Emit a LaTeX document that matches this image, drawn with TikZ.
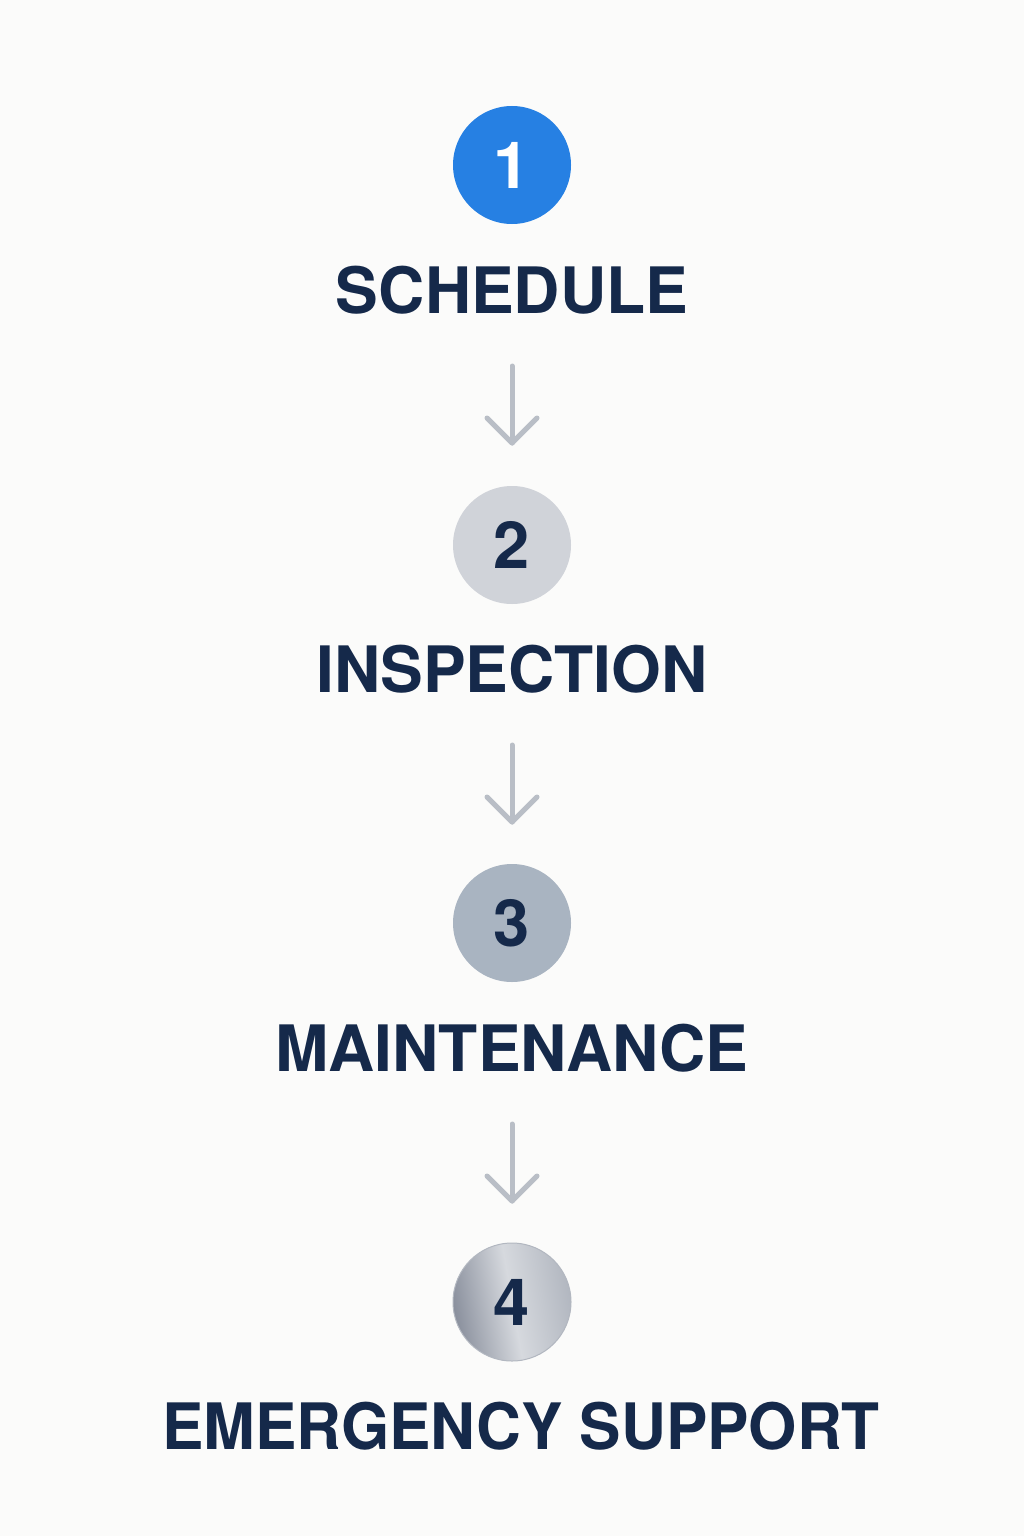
\documentclass[tikz,border=0pt]{standalone}
\usepackage{fontspec}
\setmainfont{TeX Gyre Heros}
\usetikzlibrary{calc}
\definecolor{bg}{HTML}{FBFBFA}
\definecolor{navy}{HTML}{15294A}
\definecolor{blue1}{HTML}{2680E3}
\definecolor{grey2}{HTML}{D0D3D9}
\definecolor{grey3}{HTML}{A9B4C1}
\definecolor{arrowc}{HTML}{B9BEC6}
\definecolor{g4a}{HTML}{8A909D}
\definecolor{g4b}{HTML}{D6D9DE}
\definecolor{g4c}{HTML}{B2B7C0}
\tikzset{
  stepcircle/.style={circle, minimum size=118pt, inner sep=0pt, font=\fontsize{65}{65}\selectfont\bfseries, text=navy},
  steplabel/.style={font=\fontsize{64}{64}\selectfont\bfseries, text=navy, inner sep=0pt, anchor=base},
  flowarrow/.style={draw=arrowc, line width=5pt, line cap=round, line join=round},
}
\begin{document}
\begin{tikzpicture}[x=1pt,y=-1pt]
\fill[bg] (0,0) rectangle (1024,1536);
\useasboundingbox (0,0) rectangle (1024,1536);
% circles
\node[stepcircle, fill=blue1, text=white] (c1) at (512,165) {1};
\node[stepcircle, fill=grey2] (c2) at (512,545) {2};
\node[stepcircle, fill=grey3] (c3) at (512,923) {3};
\node[stepcircle, left color=g4a, right color=g4c, middle color=g4b, shading angle=100, draw=g4c, line width=1pt] (c4) at (512,1302) {4};
% labels
\node[steplabel] (l1) at (512,313) {SCHEDULE};
\node[steplabel] (l2) at (512,692) {INSPECTION};
\node[steplabel] (l3) at (512,1071) {MAINTENANCE};
\node[steplabel, xscale=0.97] (l4) at (521,1449) {EMERGENCY SUPPORT};
% arrows
\coordinate (a1s) at (512,366); \coordinate (a1e) at (512,443);
\coordinate (a2s) at (512,745); \coordinate (a2e) at (512,822);
\coordinate (a3s) at (512,1124); \coordinate (a3e) at (512,1201);
\foreach \s/\e in {a1s/a1e,a2s/a2e,a3s/a3e}{
  \draw[flowarrow] (\s) -- (\e);
  \draw[flowarrow] ($(\e)+(-25,-25)$) -- (\e) -- ($(\e)+(25,-25)$);
}
\end{tikzpicture}
\end{document}
